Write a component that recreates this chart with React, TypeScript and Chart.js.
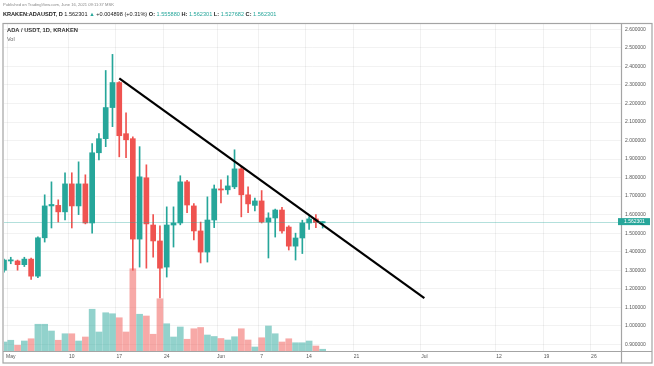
import React, { useEffect, useRef } from 'react';
import { Chart, registerables } from 'chart.js';
Chart.register(...registerables);

const FONT = '"Liberation Sans", Arial, sans-serif';

const candleDates = [
  '2021-04-30', '2021-05-01', '2021-05-02', '2021-05-03', '2021-05-04', '2021-05-05', '2021-05-06', '2021-05-07',
  '2021-05-08', '2021-05-09', '2021-05-10', '2021-05-11', '2021-05-12', '2021-05-13', '2021-05-14', '2021-05-15',
  '2021-05-16', '2021-05-17', '2021-05-18', '2021-05-19', '2021-05-20', '2021-05-21', '2021-05-22', '2021-05-23',
  '2021-05-24', '2021-05-25', '2021-05-26', '2021-05-27', '2021-05-28', '2021-05-29', '2021-05-30', '2021-05-31',
  '2021-06-01', '2021-06-02', '2021-06-03', '2021-06-04', '2021-06-05', '2021-06-06', '2021-06-07', '2021-06-08',
  '2021-06-09', '2021-06-10', '2021-06-11', '2021-06-12', '2021-06-13', '2021-06-14', '2021-06-15', '2021-06-16',
];
const openPrices = [
  1.300, 1.350, 1.350, 1.330, 1.360, 1.268, 1.475, 1.647,
  1.650, 1.615, 1.766, 1.647, 1.766, 1.555, 1.934, 2.010,
  2.178, 2.313, 2.037, 2.010, 1.468, 1.799, 1.544, 1.458,
  1.317, 1.544, 1.555, 1.777, 1.647, 1.512, 1.398, 1.571,
  1.739, 1.734, 1.750, 1.847, 1.707, 1.650, 1.674, 1.560,
  1.582, 1.625, 1.533, 1.430, 1.474, 1.555, 1.577, 1.555880,
];
const highPrices = [
  1.360, 1.370, 1.355, 1.370, 1.365, 1.480, 1.707, 1.777,
  1.680, 1.826, 1.826, 1.885, 1.815, 1.983, 2.037, 2.378,
  2.465, 2.318, 2.150, 2.020, 1.967, 1.869, 1.600, 1.540,
  1.642, 1.642, 1.810, 1.785, 1.660, 1.560, 1.696, 1.760,
  1.788, 1.810, 1.950, 1.860, 1.750, 1.690, 1.730, 1.610,
  1.630, 1.640, 1.540, 1.500, 1.570, 1.590, 1.600, 1.562301,
];
const lowPrices = [
  1.290, 1.335, 1.300, 1.320, 1.250, 1.260, 1.452, 1.528,
  1.560, 1.571, 1.528, 1.600, 1.550, 1.500, 1.896, 1.967,
  2.075, 1.912, 1.907, 1.300, 1.317, 1.311, 1.371, 1.150,
  1.263, 1.425, 1.545, 1.610, 1.463, 1.339, 1.344, 1.530,
  1.663, 1.710, 1.740, 1.588, 1.610, 1.620, 1.555, 1.366,
  1.479, 1.500, 1.409, 1.355, 1.390, 1.520, 1.530, 1.527682,
];
const closePrices = [
  1.355, 1.356, 1.330, 1.360, 1.268, 1.475, 1.647, 1.655,
  1.615, 1.766, 1.647, 1.766, 1.555, 1.934, 2.010, 2.178,
  2.313, 2.026, 2.004, 1.468, 1.804, 1.550, 1.458, 1.311,
  1.544, 1.555, 1.777, 1.652, 1.512, 1.398, 1.571, 1.739,
  1.733, 1.755, 1.847, 1.707, 1.658, 1.674, 1.560, 1.582,
  1.625, 1.512, 1.430, 1.474, 1.555, 1.577, 1.557403, 1.562301,
];
const volumes = [
  36, 43, 23, 40, 49, 107, 107, 80,
  43, 69, 69, 40, 56, 167, 76, 153,
  149, 133, 76, 329, 147, 140, 67, 209,
  109, 56, 96, 47, 89, 94, 64, 58,
  50, 44, 57, 89, 44, 16, 53, 100,
  69, 36, 49, 33, 33, 40, 20, 7,
];

const tickDates = ['2021-05-01', '2021-05-10', '2021-05-17', '2021-05-24', '2021-06-01', '2021-06-07', '2021-06-14', '2021-06-21', '2021-07-01', '2021-07-12', '2021-07-19', '2021-07-26'];
const tickLabels = ['May', '10', '17', '24', 'Jun', '7', '14', '21', 'Jul', '12', '19', '26'];

const trendDates = ['2021-05-17', '2021-07-01'];
const trendValues = [2.335, 1.149];

const lastPrice = 1.562301;
const axisStart = '2021-04-30';
const axisEnd = '2021-07-30';

const UP = '#26a69a';
const DOWN = '#ef5350';
const UP_VOL = 'rgba(38,166,154,0.5)';
const DOWN_VOL = 'rgba(239,83,80,0.5)';

function buildAxisDates(): string[] {
  const out: string[] = [];
  const d = new Date(axisStart + 'T00:00:00Z');
  const end = new Date(axisEnd + 'T00:00:00Z');
  while (d.getTime() <= end.getTime()) {
    out.push(d.toISOString().slice(0, 10));
    d.setUTCDate(d.getUTCDate() + 1);
  }
  return out;
}

const framePlugin = {
  id: 'tvFrame',
  afterDatasetsDraw(chart: any) {
    const { ctx, chartArea, scales } = chart;
    const y = scales.y.getPixelForValue(lastPrice);
    ctx.save();
    ctx.strokeStyle = 'rgba(38,166,154,0.35)';
    ctx.lineWidth = 1;
    ctx.beginPath();
    ctx.moveTo(chartArea.left, Math.round(y) + 0.5);
    ctx.lineTo(chartArea.right, Math.round(y) + 0.5);
    ctx.stroke();
    ctx.restore();
  },
  afterDraw(chart: any) {
    const { ctx, chartArea, scales } = chart;
    ctx.save();
    ctx.strokeStyle = '#a4a4a4';
    ctx.lineWidth = 1.2;
    ctx.strokeRect(3, 23.5, 649, 339.5);
    ctx.beginPath();
    ctx.moveTo(Math.round(chartArea.right) + 0.5, 23.5);
    ctx.lineTo(Math.round(chartArea.right) + 0.5, 363);
    ctx.moveTo(3, Math.round(chartArea.bottom) + 0.5);
    ctx.lineTo(652, Math.round(chartArea.bottom) + 0.5);
    ctx.stroke();
    const y = scales.y.getPixelForValue(lastPrice);
    ctx.fillStyle = UP;
    ctx.fillRect(chartArea.right - 3, y - 3.5, 32, 7);
    ctx.fillStyle = '#ffffff';
    ctx.font = `5px ${FONT}`;
    ctx.textBaseline = 'middle';
    ctx.textAlign = 'left';
    ctx.fillText(lastPrice.toFixed(6), chartArea.right + 3, y + 0.3);
    ctx.restore();
  },
};

export default function App() {
  const canvasRef = useRef<HTMLCanvasElement | null>(null);

  useEffect(() => {
    const canvas = canvasRef.current;
    if (!canvas) return;
    const labels = buildAxisDates();
    const idxOf = (d: string) => candleDates.indexOf(d);
    const isUp = (i: number) => closePrices[i] >= openPrices[i];

    const wickData = labels.map((d) => {
      const i = idxOf(d);
      return i >= 0 ? [lowPrices[i], highPrices[i]] : null;
    });
    const bodyData = labels.map((d) => {
      const i = idxOf(d);
      return i >= 0 ? [openPrices[i], closePrices[i]] : null;
    });
    const colorFor = labels.map((d) => {
      const i = idxOf(d);
      return i >= 0 ? (isUp(i) ? UP : DOWN) : 'transparent';
    });
    const volColor = labels.map((d) => {
      const i = idxOf(d);
      return i >= 0 ? (isUp(i) ? UP_VOL : DOWN_VOL) : 'transparent';
    });
    const volData = labels.map((d) => {
      const i = idxOf(d);
      return i >= 0 ? volumes[i] : null;
    });
    const trendData = labels.map((d) => {
      const i = trendDates.indexOf(d);
      return i >= 0 ? trendValues[i] : null;
    });

    const chart = new Chart(canvas, {
      type: 'bar',
      data: {
        labels,
        datasets: [
          {
            type: 'bar',
            label: 'Vol',
            data: volData as any,
            yAxisID: 'yv',
            backgroundColor: volColor,
            barThickness: 6,
            grouped: false,
            order: 4,
          },
          {
            type: 'bar',
            label: 'wick',
            data: wickData as any,
            yAxisID: 'y',
            backgroundColor: colorFor,
            barThickness: 1,
            grouped: false,
            order: 3,
          },
          {
            type: 'bar',
            label: 'body',
            data: bodyData as any,
            yAxisID: 'y',
            backgroundColor: colorFor,
            barThickness: 5,
            grouped: false,
            order: 2,
          },
          {
            type: 'line',
            label: 'trend',
            data: trendData as any,
            yAxisID: 'y',
            borderColor: '#000000',
            borderWidth: 2.2,
            pointRadius: 0,
            spanGaps: true,
            order: 1,
          },
        ],
      },
      options: {
        responsive: false,
        animation: false,
        devicePixelRatio: 1,
        layout: { padding: { left: 4, right: 2, top: 24, bottom: 3 } },
        plugins: { legend: { display: false }, tooltip: { enabled: false } },
        scales: {
          x: {
            type: 'category',
            offset: false,
            grid: {
              color: (ctx: any) => (tickDates.includes(labels[ctx.index]) ? 'rgba(0,0,0,0.055)' : 'transparent'),
              drawTicks: false,
            },
            border: { display: false },
            ticks: {
              autoSkip: false,
              maxRotation: 0,
              minRotation: 0,
              padding: 3,
              color: '#555',
              font: { size: 5, family: FONT },
              callback: (_v: any, idx: number) => {
                const i = tickDates.indexOf(labels[idx]);
                return i >= 0 ? tickLabels[i] : '';
              },
            },
            afterFit: (s: any) => {
              s.height = 12;
            },
          },
          y: {
            type: 'linear',
            position: 'right',
            min: 0.864,
            max: 2.629,
            grid: { color: 'rgba(0,0,0,0.05)', drawTicks: false },
            border: { display: false },
            ticks: {
              stepSize: 0.1,
              includeBounds: false,
              padding: 4,
              color: '#555',
              font: { size: 5, family: FONT },
              callback: (v: any) => Number(v).toFixed(6),
            },
            afterFit: (s: any) => {
              s.width = 31;
            },
          },
          yv: {
            type: 'linear',
            display: false,
            min: 0,
            max: 1308,
          },
        },
      } as any,
      plugins: [framePlugin],
    });
    return () => chart.destroy();
  }, []);

  const green = { color: UP };
  return (
    <div style={{ position: 'fixed', left: 0, top: 0, width: 654, height: 366, background: '#fff', fontFamily: FONT, overflow: 'hidden' }}>
      <canvas ref={canvasRef} width={654} height={366} style={{ position: 'absolute', left: 0, top: 0 }} />
      <div style={{ position: 'absolute', left: 3, top: 2, fontSize: 4.1, color: '#888', whiteSpace: 'nowrap', lineHeight: '6px' }}>
        Published on TradingView.com, June 16, 2021 09:11:37 MSK
      </div>
      <div style={{ position: 'absolute', left: 3, top: 11, fontSize: 5.6, color: '#222', whiteSpace: 'nowrap', lineHeight: '7px' }}>
        <b>KRAKEN:ADAUSDT, D</b> 1.562301 <span style={green}>▲</span> +0.004898 (+0.31%) <b>O:</b> <span style={green}>1.555880</span>{' '}
        <b>H:</b> <span style={green}>1.562301</span> <b>L:</b> <span style={green}>1.527682</span> <b>C:</b>{' '}
        <span style={green}>1.562301</span>
      </div>
      <div style={{ position: 'absolute', left: 7, top: 27, fontSize: 5.8, fontWeight: 'bold', color: '#333', whiteSpace: 'nowrap', lineHeight: '7px' }}>
        ADA / USDT, 1D, KRAKEN
      </div>
      <div style={{ position: 'absolute', left: 7, top: 36, fontSize: 5.5, color: '#666', whiteSpace: 'nowrap', lineHeight: '7px' }}>
        Vol
      </div>
    </div>
  );
}
